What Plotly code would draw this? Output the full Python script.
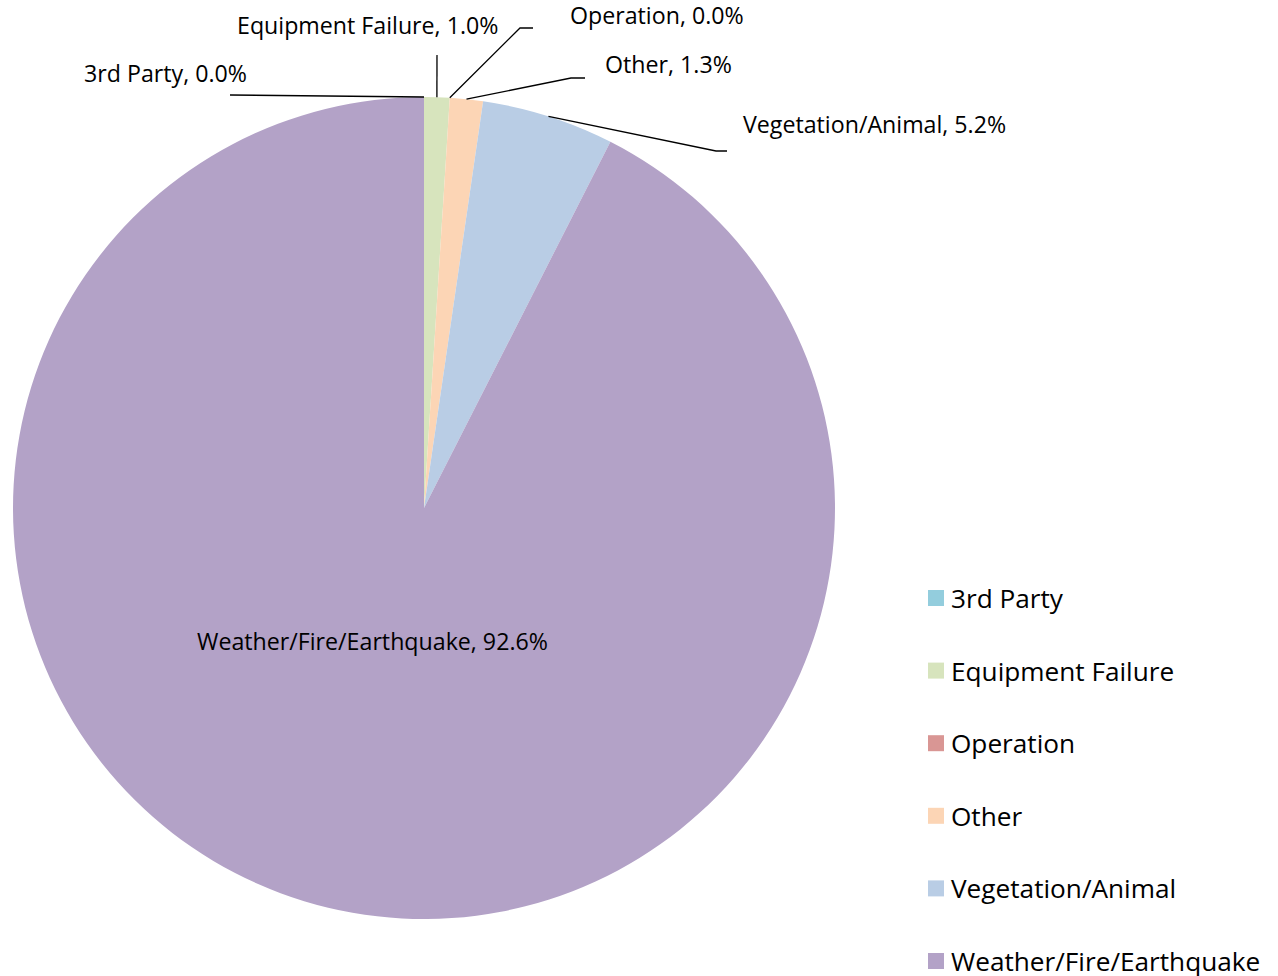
import math
import plotly.graph_objects as go

# ---- data ----
categories = ["3rd Party", "Equipment Failure", "Operation", "Other",
              "Vegetation/Animal", "Weather/Fire/Earthquake"]
values = [0.0, 1.0, 0.0, 1.3, 5.2, 92.6]
colors = ["#93CDDD", "#D7E4BD", "#D99694", "#FCD5B5", "#B9CDE5", "#B3A2C7"]

# ---- layout constants (pixels) ----
W, H = 1278, 976
CX, CY, R = 424, 508, 411
FONT = "Open Sans"
LABEL_SIZE = 23.2
LEGEND_SIZE = 26.2


def px(x):
    return x / W


def py(y):
    return 1 - y / H


fig = go.Figure(go.Pie(
    labels=categories, values=values, sort=False, direction="clockwise",
    rotation=0, marker=dict(colors=colors, line=dict(width=0)),
    textinfo="none", textposition="none", hoverinfo="label+percent",
    domain=dict(x=[px(CX - R), px(CX + R)], y=[py(CY + R), py(CY - R)]),
    showlegend=False,
))

total = sum(values)


def mid_point(i, frac=1.0):
    start = sum(values[:i]) / total
    mid = start + values[i] / total / 2
    ang = 2 * math.pi * mid
    return CX + frac * R * math.sin(ang), CY - frac * R * math.cos(ang)


# label placement: (text left x, text center y, leader path points after anchor)
placement = {
    0: (82, 73, [(230, 95)]),
    1: (235, 25, [(437, 55)]),
    2: (568, 15, [(520, 28), (533, 28)]),
    3: (603, 64, [(571, 78), (585, 78)]),
    4: (741, 124, [(716, 151), (727, 151)]),
    5: (195, 641, None),
}

annotations = []
shapes = []
for i, cat in enumerate(categories):
    lx, ly, pts = placement[i]
    annotations.append(dict(
        x=px(lx), y=py(ly), xref="paper", yref="paper", xanchor="left",
        yanchor="middle", showarrow=False, text=f"{cat}, {values[i]:.1f}%",
        font=dict(family=FONT, size=LABEL_SIZE, color="black"),
    ))
    if pts:
        ax, ay = mid_point(i)
        path = f"M {px(ax)},{py(ay)}" + "".join(f" L {px(x)},{py(y)}" for x, y in pts)
        shapes.append(dict(type="path", path=path, xref="paper", yref="paper",
                           line=dict(color="black", width=1.3)))

# manual legend
LEG_X, LEG_Y0, LEG_DY, SQ = 928, 598, 72.6, 16
for i, cat in enumerate(categories):
    yc = LEG_Y0 + i * LEG_DY
    shapes.append(dict(type="rect", xref="paper", yref="paper",
                       x0=px(LEG_X), x1=px(LEG_X + SQ),
                       y0=py(yc + SQ / 2), y1=py(yc - SQ / 2),
                       fillcolor=colors[i], line=dict(width=0)))
    annotations.append(dict(
        x=px(LEG_X + 21), y=py(yc), xref="paper", yref="paper",
        xanchor="left", yanchor="middle", showarrow=False, text=cat,
        font=dict(family=FONT, size=LEGEND_SIZE, color="black"),
    ))

fig.update_layout(
    width=W, height=H, margin=dict(l=0, r=0, t=0, b=0),
    paper_bgcolor="white", plot_bgcolor="white",
    annotations=annotations, shapes=shapes,
)

fig.write_html("out.html", config={"displayModeBar": False})

# remove the default page margin so the figure sits at the window's corner
with open("out.html", encoding="utf-8") as f:
    html = f.read()
html = html.replace("<body>", '<body style="margin:0;overflow:hidden">', 1)
with open("out.html", "w", encoding="utf-8") as f:
    f.write(html)
